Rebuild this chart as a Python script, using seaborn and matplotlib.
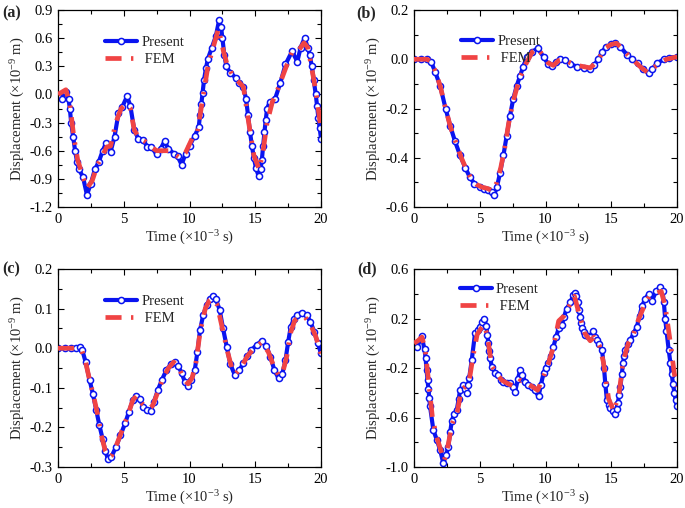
import numpy as np
import pandas as pd
import matplotlib
matplotlib.use("Agg")
import matplotlib.pyplot as plt
from matplotlib.ticker import MultipleLocator, FixedLocator, FormatStrFormatter
import seaborn as sns

sns.set_theme(style="white")
plt.rcParams['font.family'] = ['Liberation Serif', 'DejaVu Serif']
plt.rcParams['mathtext.fontset'] = 'custom'
plt.rcParams['mathtext.rm'] = 'Liberation Serif'
plt.rcParams['mathtext.it'] = 'Liberation Serif:italic'
plt.rcParams['axes.unicode_minus'] = False

# ---------------- data: panel (a) ----------------
a_present_t = [0.0, 0.3, 0.6, 0.8, 0.9, 1.0, 1.15, 1.3, 1.45, 1.6, 1.9, 2.2, 2.5, 2.8, 3.1, 3.4, 3.65, 4.0,
               4.3, 4.6, 4.9, 5.25, 5.5, 5.8, 6.1, 6.5, 6.8, 7.1, 7.5, 7.8, 8.1, 8.4, 8.8, 9.1, 9.4, 9.7, 10.0,
               10.4, 10.7, 10.8, 10.9, 11.0, 11.1, 11.25, 11.4, 11.7, 12.0, 12.25, 12.4, 12.5, 12.65, 12.8,
               13.1, 13.5, 13.8, 14.1, 14.3, 14.45, 14.6, 14.75, 14.9, 15.05, 15.25, 15.4, 15.5, 15.6, 15.7,
               15.8, 15.9, 16.1, 16.5, 16.9, 17.3, 17.8, 18.2, 18.45, 18.75, 19.0, 19.15, 19.3, 19.45, 19.6,
               19.7, 19.8, 19.9, 20.0]
a_present_u = [-0.02, -0.05, 0.03, -0.05, -0.15, -0.3, -0.45, -0.6, -0.72, -0.8, -0.88, -1.07, -0.95, -0.8,
               -0.72, -0.6, -0.52, -0.61, -0.45, -0.2, -0.13, -0.02, -0.12, -0.38, -0.47, -0.49, -0.56,
               -0.56, -0.64, -0.58, -0.5, -0.58, -0.63, -0.66, -0.75, -0.63, -0.55, -0.44, -0.35, -0.22,
               -0.1, 0.02, 0.15, 0.28, 0.38, 0.5, 0.62, 0.79, 0.72, 0.6, 0.42, 0.3, 0.23, 0.18, 0.12, 0.08,
               -0.05, -0.22, -0.4, -0.55, -0.68, -0.78, -0.87, -0.8, -0.7, -0.55, -0.4, -0.27, -0.15, -0.08,
               -0.05, 0.12, 0.32, 0.46, 0.35, 0.5, 0.6, 0.5, 0.42, 0.3, 0.15, 0.0, -0.12, -0.25, -0.36, -0.47]
a_fem_t = [0.0, 0.6, 0.9, 1.2, 1.5, 1.9, 2.2, 2.6, 3.0, 3.4, 3.7, 4.0, 4.4, 4.8, 5.2, 5.5, 5.8, 6.2, 6.6, 7.0,
           7.5, 8.0, 8.4, 8.8, 9.3, 9.7, 10.2, 10.6, 11.0, 11.4, 11.8, 12.2, 12.6, 12.9, 13.3, 13.7, 14.1,
           14.5, 14.9, 15.3, 15.6, 15.9, 16.3, 16.7, 17.1, 17.5, 17.8, 18.2, 18.7, 19.0, 19.4, 19.7, 20.0]
a_fem_u = [0.0, 0.05, -0.1, -0.45, -0.7, -0.88, -1.0, -0.92, -0.75, -0.65, -0.56, -0.55, -0.3, -0.15, -0.1,
           -0.15, -0.38, -0.47, -0.5, -0.55, -0.6, -0.6, -0.6, -0.63, -0.68, -0.62, -0.47, -0.4, -0.05, 0.3,
           0.5, 0.7, 0.45, 0.3, 0.2, 0.14, 0.08, -0.3, -0.65, -0.8, -0.6, -0.3, -0.08, 0.05, 0.2, 0.35, 0.45,
           0.45, 0.55, 0.5, 0.2, -0.05, -0.38]

# ---------------- data: panel (b) ----------------
b_present_t = [0.0, 0.5, 1.0, 1.3, 1.6, 2.0, 2.4, 2.75, 3.1, 3.5, 3.9, 4.25, 4.6, 5.0, 5.3, 5.6, 5.9, 6.1,
               6.3, 6.55, 6.8, 7.05, 7.3, 7.55, 7.8, 8.05, 8.3, 8.6, 9.0, 9.4, 9.85, 10.2, 10.5, 10.8, 11.1,
               11.5, 11.9, 12.4, 12.9, 13.4, 13.7, 14.0, 14.3, 14.6, 15.0, 15.3, 15.7, 16.2, 16.6, 17.0, 17.4,
               17.85, 18.1, 18.5, 19.0, 19.4, 20.0]
b_present_u = [0.0, 0.0, 0.0, -0.01, -0.05, -0.11, -0.2, -0.27, -0.33, -0.39, -0.44, -0.48, -0.505, -0.52,
               -0.525, -0.53, -0.54, -0.55, -0.52, -0.46, -0.39, -0.31, -0.23, -0.16, -0.11, -0.07, -0.03,
               0.01, 0.03, 0.045, 0.01, -0.02, -0.027, -0.01, 0.0, -0.005, -0.02, -0.03, -0.036, -0.04, -0.025,
               0.0, 0.03, 0.05, 0.06, 0.068, 0.05, 0.018, 0.0, -0.016, -0.04, -0.057, -0.04, -0.016, 0.0,
               0.007, 0.01]
b_fem_t = [0.0, 1.0, 1.3, 1.6, 2.0, 2.4, 2.8, 3.2, 3.6, 4.0, 4.4, 4.8, 5.2, 5.6, 6.0, 6.3, 6.6, 6.9, 7.2,
           7.5, 7.8, 8.1, 8.5, 9.0, 9.4, 9.8, 10.2, 10.6, 11.0, 11.4, 11.9, 12.4, 12.9, 13.4, 14.0, 14.5,
           15.0, 15.4, 15.8, 16.3, 16.8, 17.3, 17.8, 18.2, 18.7, 19.2, 19.6, 20.0]
b_fem_u = [0.0, 0.0, -0.01, -0.045, -0.11, -0.2, -0.28, -0.34, -0.4, -0.45, -0.49, -0.51, -0.52, -0.525,
           -0.535, -0.5, -0.44, -0.36, -0.26, -0.18, -0.12, -0.07, -0.02, 0.03, 0.045, 0.015, -0.015, -0.025,
           -0.005, 0.0, -0.015, -0.025, -0.03, -0.035, -0.005, 0.045, 0.06, 0.065, 0.045, 0.015, -0.01,
           -0.035, -0.055, -0.035, -0.015, 0.0, 0.005, 0.01]

# ---------------- data: panel (c) ----------------
c_present_t = [0.0, 0.5, 1.0, 1.4, 1.65, 1.85, 2.1, 2.4, 2.65, 2.9, 3.15, 3.4, 3.6, 3.8, 4.05, 4.4, 4.75,
               5.1, 5.4, 5.7, 5.95, 6.2, 6.5, 6.8, 7.05, 7.3, 7.6, 7.9, 8.25, 8.6, 8.9, 9.15, 9.4, 9.65, 9.9,
               10.15, 10.4, 10.6, 10.8, 11.05, 11.3, 11.55, 11.77, 12.0, 12.3, 12.55, 12.83, 13.1, 13.45,
               13.8, 14.1, 14.4, 14.7, 15.1, 15.5, 15.85, 16.15, 16.45, 16.77, 17.05, 17.3, 17.5, 17.7,
               17.95, 18.2, 18.55, 18.9, 19.2, 19.5, 19.75, 20.0]
c_present_u = [0.0, 0.0, 0.0, 0.001, 0.003, -0.005, -0.035, -0.08, -0.115, -0.155, -0.195, -0.23, -0.26,
               -0.28, -0.275, -0.25, -0.22, -0.19, -0.16, -0.13, -0.12, -0.128, -0.148, -0.157, -0.158,
               -0.135, -0.105, -0.08, -0.055, -0.04, -0.034, -0.045, -0.063, -0.085, -0.095, -0.08, -0.055,
               -0.01, 0.046, 0.085, 0.109, 0.125, 0.132, 0.125, 0.096, 0.05, 0.004, -0.04, -0.068, -0.055,
               -0.038, -0.02, -0.005, 0.008, 0.019, 0.005, -0.021, -0.055, -0.076, -0.065, -0.03, 0.015,
               0.054, 0.075, 0.085, 0.09, 0.083, 0.067, 0.04, 0.013, -0.013]
c_fem_t = [0.0, 1.0, 1.5, 1.8, 2.1, 2.4, 2.7, 3.0, 3.3, 3.6, 3.85, 4.1, 4.5, 4.9, 5.3, 5.7, 6.0, 6.4, 6.9,
           7.2, 7.6, 8.0, 8.4, 8.8, 9.2, 9.6, 9.9, 10.2, 10.5, 10.8, 11.2, 11.5, 11.75, 12.1, 12.5, 12.9,
           13.3, 13.5, 13.9, 14.4, 14.9, 15.5, 16.0, 16.4, 16.8, 17.1, 17.4, 17.7, 18.0, 18.4, 18.8, 19.2,
           19.6, 20.0]
c_fem_u = [0.0, 0.0, 0.0, -0.005, -0.035, -0.08, -0.12, -0.165, -0.22, -0.26, -0.275, -0.27, -0.24, -0.205,
           -0.17, -0.13, -0.12, -0.14, -0.153, -0.145, -0.11, -0.075, -0.05, -0.035, -0.05, -0.08, -0.09,
           -0.075, -0.035, 0.04, 0.1, 0.12, 0.125, 0.11, 0.05, -0.01, -0.06, -0.065, -0.05, -0.02, 0.0,
           0.015, -0.01, -0.045, -0.07, -0.06, -0.02, 0.04, 0.07, 0.08, 0.078, 0.06, 0.03, -0.015]

# ---------------- data: panel (d) ----------------
d_present_t = [0.0, 0.25, 0.58, 0.8, 0.88, 0.96, 1.03, 1.1, 1.16, 1.22, 1.47, 1.73, 1.98, 2.23, 2.45, 2.6,
               2.75, 2.87, 3.05, 3.25, 3.4, 3.5, 3.7, 3.85, 4.0, 4.1, 4.2, 4.39, 4.64, 4.85, 5.0, 5.15, 5.33,
               5.5, 5.58, 5.65, 5.72, 5.8, 5.91, 6.17, 6.42, 6.6, 6.8, 7.05, 7.3, 7.5, 7.69, 7.9, 8.07, 8.25,
               8.45, 8.7, 8.96, 9.2, 9.47, 9.65, 9.85, 10.0, 10.2, 10.4, 10.6, 10.8, 11.0, 11.24, 11.4, 11.6,
               11.9, 12.1, 12.26, 12.35, 12.45, 12.55, 12.64, 12.72, 12.8, 12.9, 13.0, 13.2, 13.4, 13.6,
               13.75, 13.9, 14.1, 14.3, 14.45, 14.55, 14.67, 14.8, 14.9, 15.1, 15.3, 15.4, 15.5, 15.6, 15.7,
               15.8, 15.9, 15.98, 16.07, 16.25, 16.45, 16.7, 16.95, 17.15, 17.33, 17.6, 17.84, 18.1, 18.4,
               18.73, 18.9, 19.0, 19.1, 19.2, 19.37, 19.5, 19.6, 19.7, 19.8, 19.9, 20.0]
d_present_u = [-0.015, -0.03, 0.058, -0.05, -0.12, -0.22, -0.3, -0.37, -0.44, -0.51, -0.7, -0.78, -0.86,
               -0.97, -0.9, -0.84, -0.72, -0.63, -0.57, -0.54, -0.45, -0.38, -0.34, -0.37, -0.4, -0.34,
               -0.28, -0.136, 0.08, 0.11, 0.13, 0.17, 0.2, 0.14, 0.07, 0.0, -0.06, -0.12, -0.19, -0.24,
               -0.26, -0.3, -0.31, -0.32, -0.325, -0.35, -0.39, -0.29, -0.22, -0.26, -0.31, -0.34, -0.35,
               -0.38, -0.43, -0.34, -0.24, -0.2, -0.16, -0.1, -0.03, 0.05, 0.12, 0.147, 0.21, 0.28, 0.33,
               0.39, 0.41, 0.38, 0.33, 0.27, 0.215, 0.16, 0.12, 0.09, 0.066, 0.055, 0.05, 0.1, 0.05, 0.026,
               -0.01, -0.055, -0.2, -0.33, -0.46, -0.5, -0.52, -0.55, -0.57, -0.53, -0.48, -0.42, -0.35,
               -0.25, -0.16, -0.1, -0.055, -0.01, 0.026, 0.08, 0.134, 0.22, 0.3, 0.36, 0.4, 0.34, 0.42,
               0.457, 0.42, 0.33, 0.2, 0.1, -0.055, -0.16, -0.25, -0.33, -0.4, -0.46, -0.51]
d_fem_t = [0.0, 0.3, 0.6, 0.85, 1.1, 1.4, 1.7, 2.0, 2.3, 2.6, 2.9, 3.3, 3.6, 3.9, 4.2, 4.5, 4.8, 5.1, 5.35,
           5.6, 5.9, 6.3, 6.7, 7.2, 7.7, 8.1, 8.5, 9.0, 9.4, 9.8, 10.2, 10.6, 11.0, 11.4, 11.8, 12.2, 12.6,
           13.0, 13.4, 13.7, 14.1, 14.4, 14.8, 15.2, 15.6, 15.9, 16.3, 16.7, 17.1, 17.5, 17.9, 18.3, 18.8,
           19.1, 19.5, 19.8, 20.0]
d_fem_u = [0.0, 0.02, 0.05, -0.05, -0.3, -0.6, -0.75, -0.85, -0.95, -0.82, -0.65, -0.55, -0.38, -0.35,
           -0.3, -0.1, 0.07, 0.12, 0.15, 0.05, -0.18, -0.25, -0.3, -0.33, -0.35, -0.3, -0.32, -0.35, -0.38,
           -0.28, -0.17, -0.03, 0.18, 0.22, 0.3, 0.38, 0.22, 0.08, 0.02, 0.05, -0.02, -0.15, -0.45, -0.55,
           -0.4, -0.15, 0.0, 0.08, 0.2, 0.3, 0.38, 0.4, 0.42, 0.3, 0.0, -0.25, -0.35]

# y tick labels per panel
a_yticks = [-1.2, -0.9, -0.6, -0.3, 0.0, 0.3, 0.6, 0.9]
b_yticks = [-0.6, -0.4, -0.2, 0.0, 0.2]
c_yticks = [-0.3, -0.2, -0.1, 0.0, 0.1, 0.2]
d_yticks = [-1.0, -0.6, -0.2, 0.2, 0.6]
x_ticks = [0, 5, 10, 15, 20]

panels = [
    ("(a)", a_present_t, a_present_u, a_fem_t, a_fem_u, a_yticks),
    ("(b)", b_present_t, b_present_u, b_fem_t, b_fem_u, b_yticks),
    ("(c)", c_present_t, c_present_u, c_fem_t, c_fem_u, c_yticks),
    ("(d)", d_present_t, d_present_u, d_fem_t, d_fem_u, d_yticks),
]

W, H = 685, 508
fig = plt.figure(figsize=(W / 100, H / 100), dpi=100)
fig.patch.set_facecolor('white')

# axes boxes in pixels: left, top, right, bottom
boxes = [(58, 10, 321, 207), (414, 10, 677, 207), (58, 269, 321, 467), (414, 269, 677, 467)]
label_pos = [(2, 13), (356, 13), (2, 269), (357, 269)]
legend_anchor = [(0.145, 0.915), (0.145, 0.92), (0.145, 0.915), (0.14, 0.975)]

BLUE = '#0a14f0'
RED = '#f04444'

for i, (tag, pt, pu, ft, fu, yt) in enumerate(panels):
    l, t, r, b = boxes[i]
    ax = fig.add_axes([l / W, 1 - b / H, (r - l) / W, (b - t) / H])
    dfp = pd.DataFrame({"t": pt, "u": pu})
    dff = pd.DataFrame({"t": ft, "u": fu})
    sns.lineplot(data=dfp, x="t", y="u", ax=ax, color=BLUE, lw=3.0, marker='o', markersize=4.4,
                 markerfacecolor='white', markeredgecolor=BLUE, markeredgewidth=1.1,
                 label="Present", errorbar=None, zorder=2)
    sns.lineplot(data=dff, x="t", y="u", ax=ax, color=RED, lw=3.4,
                 linestyle=(0, (3.4, 2.0, 0.5, 2.0)), label=" FEM", errorbar=None, zorder=3)
    ax.set_xlim(0, 20)
    ax.set_ylim(yt[0], yt[-1])
    ax.xaxis.set_major_locator(FixedLocator(x_ticks))
    ax.xaxis.set_minor_locator(MultipleLocator(2.5))
    ax.yaxis.set_major_locator(FixedLocator(yt))
    step = yt[1] - yt[0]
    ax.yaxis.set_minor_locator(FixedLocator(np.arange(yt[0], yt[-1] + 1e-9, step / 2)))
    ax.yaxis.set_major_formatter(FormatStrFormatter('%.1f'))
    ax.xaxis.set_major_formatter(FormatStrFormatter('%d'))
    ax.tick_params(which='both', direction='in', top=True, right=True, bottom=True, left=True,
                   length=4, width=0.8, colors='black', labelsize=10.5, pad=4)
    ax.tick_params(which='minor', length=3)
    for s in ax.spines.values():
        s.set_color('black')
        s.set_linewidth(0.9)
    ax.set_xlabel(r'Time ($\times$10$^{\mathrm{-3}}$ s)', fontsize=10.5, labelpad=2)
    ax.set_ylabel(r'Displacement ($\times$10$^{\mathrm{-9}}$ m)', fontsize=10.5, labelpad=2)
    ax.grid(False)
    ax.legend(loc='upper left', bbox_to_anchor=legend_anchor[i], frameon=False, fontsize=10.5,
              handlelength=2.2, handletextpad=0.3, labelspacing=0.3, borderaxespad=0.2, numpoints=1)
    lx, ly = label_pos[i]
    fig.text(lx / W, 1 - ly / H, tag, fontsize=11.5, fontweight='bold', ha='left', va='center')

fig.savefig("out.png", dpi=100, facecolor='white')
